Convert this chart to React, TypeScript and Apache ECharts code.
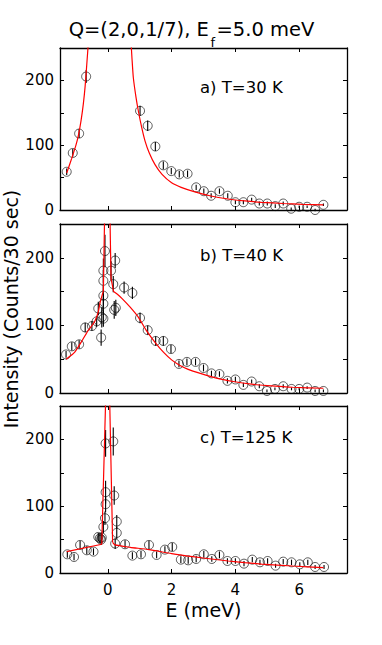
import React, { useEffect, useRef } from "react";
import * as echarts from "echarts";

// ---------- data ----------
const xTicks = [0, 2, 4, 6];
const xMin = -1.5;
const xMax = 7.5;
const yMax = 250;
const yStep = 50;

const titleMain = "Q=(2,0,1/7), E";
const titleSub = "f";
const titleTail = "=5.0 meV";
const yAxisTitle = "Intensity (Counts/30 sec)";
const xAxisTitle = "E (meV)";
const panelLabels = ["a) T=30 K", "b) T=40 K", "c) T=125 K"];

// [E (meV), intensity, error]
const pointsA = [
  [-1.29, 59, 5], [-1.1, 88, 6], [-0.9, 118, 7], [-0.68, 206, 10],
  [1.01, 153, 8], [1.25, 130, 8], [1.49, 98, 7], [1.74, 69, 6], [1.99, 60, 5],
  [2.24, 55, 5], [2.5, 56, 5], [2.77, 35, 4], [3.01, 29, 4], [3.24, 22, 4],
  [3.5, 29, 4], [3.76, 22, 4], [4.0, 12, 3], [4.25, 12, 3], [4.51, 16, 3],
  [4.75, 10, 3], [5.0, 10, 3], [5.25, 6, 3], [5.5, 10, 3], [5.75, 2, 2],
  [6.0, 5, 2], [6.25, 5, 2], [6.5, 0, 2], [6.76, 8, 2],
];
const pointsB = [
  [-1.31, 57, 5], [-1.13, 69, 6], [-0.9, 72, 6], [-0.71, 97, 7], [-0.5, 99, 7],
  [-0.35, 106, 8], [-0.3, 125, 10], [-0.21, 82, 12], [-0.19, 112, 15],
  [-0.14, 110, 12], [-0.14, 132, 14], [-0.14, 144, 15], [-0.14, 166, 16],
  [-0.14, 181, 18], [-0.09, 210, 24], [0.1, 181, 14], [0.23, 196, 11],
  [0.17, 161, 12], [0.2, 123, 13], [0.25, 126, 12], [0.51, 156, 9],
  [0.77, 148, 9], [1.01, 111, 8], [1.25, 93, 7], [1.5, 77, 7], [1.74, 77, 7],
  [1.98, 65, 6], [2.23, 43, 5], [2.48, 46, 5], [2.75, 46, 5], [3.0, 37, 5],
  [3.25, 29, 4], [3.5, 28, 4], [3.75, 18, 4], [4.0, 20, 4], [4.25, 12, 3],
  [4.51, 17, 3], [4.75, 10, 3], [4.99, 3, 2], [5.24, 6, 2], [5.5, 10, 3],
  [5.76, 6, 2], [6.0, 6, 2], [6.25, 8, 2], [6.5, 3, 2], [6.76, 3, 2],
];
const pointsC = [
  [-1.27, 28, 5], [-1.06, 24, 5], [-0.87, 42, 6], [-0.66, 34, 6], [-0.45, 32, 5],
  [-0.3, 54, 6], [-0.25, 52, 7], [-0.21, 50, 8], [-0.19, 53, 8], [-0.14, 69, 9],
  [-0.09, 82, 10], [-0.07, 103, 12], [-0.07, 121, 17], [-0.07, 194, 20],
  [0.17, 197, 21], [0.2, 116, 14], [0.28, 77, 10], [0.28, 60, 9], [0.23, 44, 8],
  [0.54, 43, 6], [0.77, 26, 5], [1.04, 28, 5], [1.29, 42, 6], [1.53, 27, 5],
  [1.79, 35, 5], [2.02, 39, 6], [2.29, 20, 5], [2.52, 19, 5], [2.77, 21, 5],
  [3.01, 28, 5], [3.26, 21, 4], [3.5, 27, 5], [3.75, 18, 4], [4.0, 18, 4],
  [4.27, 14, 4], [4.53, 20, 4], [4.77, 16, 4], [5.01, 18, 4], [5.26, 11, 3],
  [5.5, 17, 4], [5.76, 16, 4], [6.02, 13, 3], [6.27, 16, 4], [6.5, 9, 3],
  [6.78, 9, 3],
];

// fitted curves
const fitA1 = [[-1.29, 57], [-1.13, 80], [-1.0, 100], [-0.92, 116], [-0.84, 138], [-0.77, 163], [-0.71, 192], [-0.66, 225], [-0.6, 265]];
const fitA2 = [
  [0.72, 265], [0.76, 232], [0.8, 204], [0.88, 175], [0.96, 152], [1.06, 128], [1.17, 106],
  [1.3, 88], [1.48, 70], [1.7, 55], [2.0, 42], [2.3, 35], [2.73, 28], [3.2, 22],
  [3.78, 17], [4.3, 14], [4.82, 11.8], [5.5, 10], [6.1, 8.8], [6.76, 8],
];
const fitB1 = [[-1.31, 50], [-1.17, 55], [-1.03, 61], [-0.8, 78], [-0.61, 93], [-0.48, 101], [-0.4, 107], [-0.3, 120], [-0.24, 134], [-0.14, 151]];
const fitB2 = [[-0.14, 151], [-0.1, 265], [0.065, 265], [0.1, 170], [0.18, 150]];
const fitB3 = [
  [0.18, 150], [0.3, 146], [0.44, 140], [0.7, 127], [0.96, 112], [1.2, 93], [1.48, 75],
  [1.75, 60], [2.0, 49], [2.25, 41], [2.52, 35], [2.9, 29], [3.4, 22], [3.93, 17],
  [4.5, 13], [5.0, 11], [5.8, 8.5], [6.76, 7],
];
const fitC1 = [[-1.29, 32], [-0.19, 43]];
const fitC2 = [[-0.19, 43], [-0.065, 265], [0.055, 265], [0.15, 46]];
const fitC3 = [
  [0.15, 46], [0.23, 42], [0.7, 38.5], [1.29, 35], [2.0, 29], [2.73, 24], [3.25, 21],
  [3.78, 18], [4.3, 15.5], [4.82, 13.4], [5.8, 10.5], [6.76, 8],
];

const panelPoints = [pointsA, pointsB, pointsC];
const panelFits = [
  [fitA1, fitA2],
  [fitB1, fitB2, fitB3],
  [fitC1, fitC2, fitC3],
];

// ---------- layout ----------
const FONT = "DejaVu Sans";
const grids = [
  { top: 48, height: 162 },
  { top: 224, height: 169 },
  { top: 406, height: 167 },
];
const labelY = [87, 255, 437];

function measure(text: string, size: number) {
  const c = document.createElement("canvas").getContext("2d");
  if (!c) return text.length * size * 0.6;
  c.font = `${size}px "${FONT}"`;
  return c.measureText(text).width;
}

export default function App() {
  const ref = useRef<HTMLDivElement>(null);

  useEffect(() => {
    document.body.style.margin = "0";
    if (!ref.current) return;
    const chart = echarts.init(ref.current, null, { renderer: "svg" });

    const frame = { color: "#000", width: 1.3 };
    const xAxes: any[] = [];
    const yAxes: any[] = [];
    grids.forEach((_, i) => {
      const isLast = i === grids.length - 1;
      for (const pos of ["bottom", "top"]) {
        const main = pos === "bottom";
        xAxes.push({
          type: "value",
          gridIndex: i,
          position: pos,
          min: xMin,
          max: xMax,
          axisLine: { show: true, onZero: false, lineStyle: frame },
          axisTick: { show: true, inside: true, length: 4, customValues: xTicks, lineStyle: { color: "#000", width: 1 } },
          axisLabel: {
            show: main && isLast,
            customValues: xTicks,
            color: "#000",
            fontSize: 15,
            fontFamily: FONT,
            margin: 9,
          },
          splitLine: { show: false },
          name: main && isLast ? xAxisTitle : "",
          nameLocation: "middle",
          nameGap: 27,
          nameTextStyle: { color: "#000", fontSize: 19, fontFamily: FONT },
        });
      }
      for (const pos of ["left", "right"]) {
        const main = pos === "left";
        yAxes.push({
          type: "value",
          gridIndex: i,
          position: pos,
          min: 0,
          max: yMax,
          interval: yStep,
          axisLine: { show: true, onZero: false, lineStyle: frame },
          axisTick: { show: true, inside: true, length: 4, lineStyle: { color: "#000", width: 1 } },
          axisLabel: {
            show: main,
            color: "#000",
            fontSize: 15,
            fontFamily: FONT,
            margin: 6,
            formatter: (v: number) => (v % 100 === 0 ? String(v) : ""),
          },
          splitLine: { show: false },
        });
      }
    });

    const series: any[] = [];
    panelPoints.forEach((pts, i) => {
      series.push({
        type: "custom",
        xAxisIndex: 2 * i,
        yAxisIndex: 2 * i,
        data: pts,
        z: 2,
        renderItem: (_p: any, api: any) => {
          const x = api.value(0);
          const y = api.value(1);
          const e = api.value(2);
          const a = api.coord([x, y - e]);
          const b = api.coord([x, y + e]);
          return {
            type: "line",
            shape: { x1: a[0], y1: a[1], x2: b[0], y2: b[1] },
            style: { stroke: "#000", lineWidth: 1.1 },
          };
        },
      });
      series.push({
        type: "scatter",
        xAxisIndex: 2 * i,
        yAxisIndex: 2 * i,
        data: pts.map((p) => [p[0], p[1]]),
        symbol: "circle",
        symbolSize: 9,
        clip: false,
        z: 3,
        itemStyle: { color: "rgba(0,0,0,0)", borderColor: "#000", borderWidth: 0.8 },
      });
      panelFits[i].forEach((fit, k) => {
        const isSpike = panelFits[i].length === 3 && k === 1;
        series.push({
          type: "line",
          xAxisIndex: 2 * i,
          yAxisIndex: 2 * i,
          data: fit,
          symbol: "none",
          smooth: isSpike || fit.length < 3 ? false : 0.2,
          clip: true,
          z: 4,
          lineStyle: { color: "#ff0000", width: 1.2 },
        });
      });
    });

    // title with subscript
    const mainSize = 19.5;
    const subSize = 13;
    const w1 = measure(titleMain, mainSize);
    const w2 = measure(titleSub, subSize);
    const w3 = measure(titleTail, mainSize);
    const gap = 1.5;
    const total = w1 + gap + w2 + gap + w3;
    const x0 = 191.5 - total / 2;
    const titleY = 29.5;

    const graphic: any[] = [
      {
        type: "text",
        x: x0,
        y: titleY,
        style: { text: titleMain, fill: "#000", font: `${mainSize}px "${FONT}"`, verticalAlign: "middle", align: "left" },
      },
      {
        type: "text",
        x: x0 + w1 + gap,
        y: 42.5,
        style: { text: titleSub, fill: "#000", font: `${subSize}px "${FONT}"`, verticalAlign: "middle", align: "left" },
      },
      {
        type: "text",
        x: x0 + w1 + gap + w2 + gap,
        y: titleY,
        style: { text: titleTail, fill: "#000", font: `${mainSize}px "${FONT}"`, verticalAlign: "middle", align: "left" },
      },
      {
        type: "text",
        x: 10.5,
        y: 309,
        rotation: Math.PI / 2,
        style: { text: yAxisTitle, fill: "#000", font: `19px "${FONT}"`, verticalAlign: "middle", align: "center" },
      },
      ...panelLabels.map((t, i) => ({
        type: "text",
        x: 200,
        y: labelY[i],
        style: { text: t, fill: "#000", font: `16.5px "${FONT}"`, verticalAlign: "middle", align: "left" },
      })),
    ];

    chart.setOption({
      animation: false,
      backgroundColor: "#fff",
      grid: grids.map((g) => ({ left: 60, right: 35, top: g.top, height: g.height, containLabel: false })),
      xAxis: xAxes,
      yAxis: yAxes,
      series,
      graphic,
    });

    return () => chart.dispose();
  }, []);

  return <div ref={ref} style={{ width: 382, height: 645 }} />;
}
